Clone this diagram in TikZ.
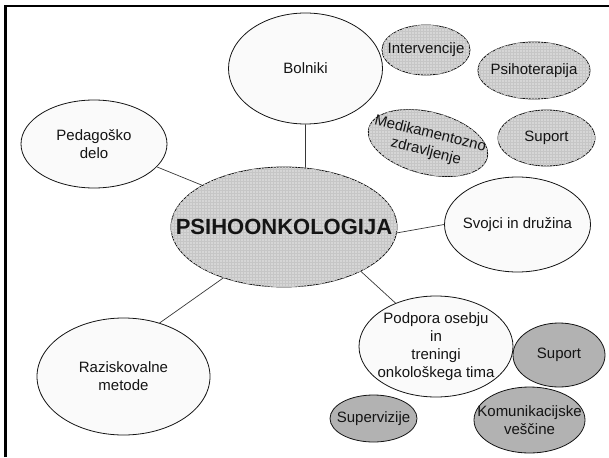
\documentclass[tikz,border=0pt]{standalone}
\usepackage{fontspec}
\setmainfont{Liberation Sans}
\usepackage{xcolor}
\usepackage{tikz}
\usetikzlibrary{shapes.geometric,patterns}
\definecolor{paleback}{RGB}{250,250,250}
\definecolor{gridgrey}{RGB}{214,214,214}
\definecolor{midgrey}{RGB}{178,178,178}
\definecolor{inkgrey}{RGB}{20,20,20}
\tikzset{
  topic/.style={draw=inkgrey, ellipse, inner sep=0pt, fill=paleback},
  gridfill/.style={fill=gridgrey, postaction={pattern=grid, pattern color=gray!45}},
  darkfill/.style={fill=midgrey},
  every label/.append style={align=center, text=inkgrey, font=\fontsize{15}{18}\selectfont},
  link/.style={draw=inkgrey!85, line width=0.7pt},
}

\begin{document}
\begin{tikzpicture}[x=1pt, y=-1pt, line width=0.8pt]
\useasboundingbox (0,0) rectangle (609,457);
\draw[line width=2.2pt] (5.5,457) -- (5.5,6) -- (609,6);

% center
\node[topic, gridfill, minimum width=226pt, minimum height=120pt,
  label={[font=\fontsize{22}{26}\selectfont\bfseries]center:PSIHOONKOLOGIJA}] (psiho) at (284,227) {};

% main topics
\node[topic, minimum width=154pt, minimum height=111pt, label=center:Bolniki] (bolniki) at (305.5,68.5) {};
\node[topic, minimum width=146pt, minimum height=88pt, label=center:{Pedagoško\\delo}] (peda) at (94,144) {};
\node[topic, minimum width=146pt, minimum height=95pt, label=center:{Svojci in družina}] (svojci) at (517.5,224.5) {};
\node[topic, minimum width=154pt, minimum height=101pt, label=center:{Podpora osebju\\in\\treningi\\onkološkega tima}] (podpora) at (436,346.5) {};
\node[topic, minimum width=173pt, minimum height=117pt, label=center:{Raziskovalne\\metode}] (razisk) at (123.5,376.5) {};

% patients
\node[topic, gridfill, minimum width=88pt, minimum height=50pt, label=center:Intervencije] (interv) at (426,50) {};
\node[topic, gridfill, minimum width=112pt, minimum height=57pt, label=center:Psihoterapija] (psihoter) at (534,70.5) {};
\node[topic, gridfill, rotate=-14, minimum width=122pt, minimum height=62pt,
  label={[rotate=-14]center:{Medikamentozno\\zdravljenje}}] (medik) at (428,143) {};
\node[topic, gridfill, minimum width=97pt, minimum height=56pt, label=center:Suport] (suporta) at (546.5,138) {};

% staff
\node[topic, darkfill, minimum width=92pt, minimum height=64pt, label=center:Suport] (suportb) at (559,355) {};
\node[topic, darkfill, minimum width=87pt, minimum height=47pt, label=center:Supervizije] (superv) at (373.5,418.5) {};
\node[topic, darkfill, minimum width=111pt, minimum height=66pt, label=center:{Komunikacijske\\veščine}] (komun) at (529.5,420) {};

\draw[link] (bolniki.south) -- (psiho.70);
\draw[link] (peda.-20) -- (psiho.153);
\draw[link] (psiho.-3) -- (svojci.west);
\draw[link] (psiho.-30) -- (podpora.133);
\draw[link] (psiho.220) -- (razisk.56);
\end{tikzpicture}
\end{document}
